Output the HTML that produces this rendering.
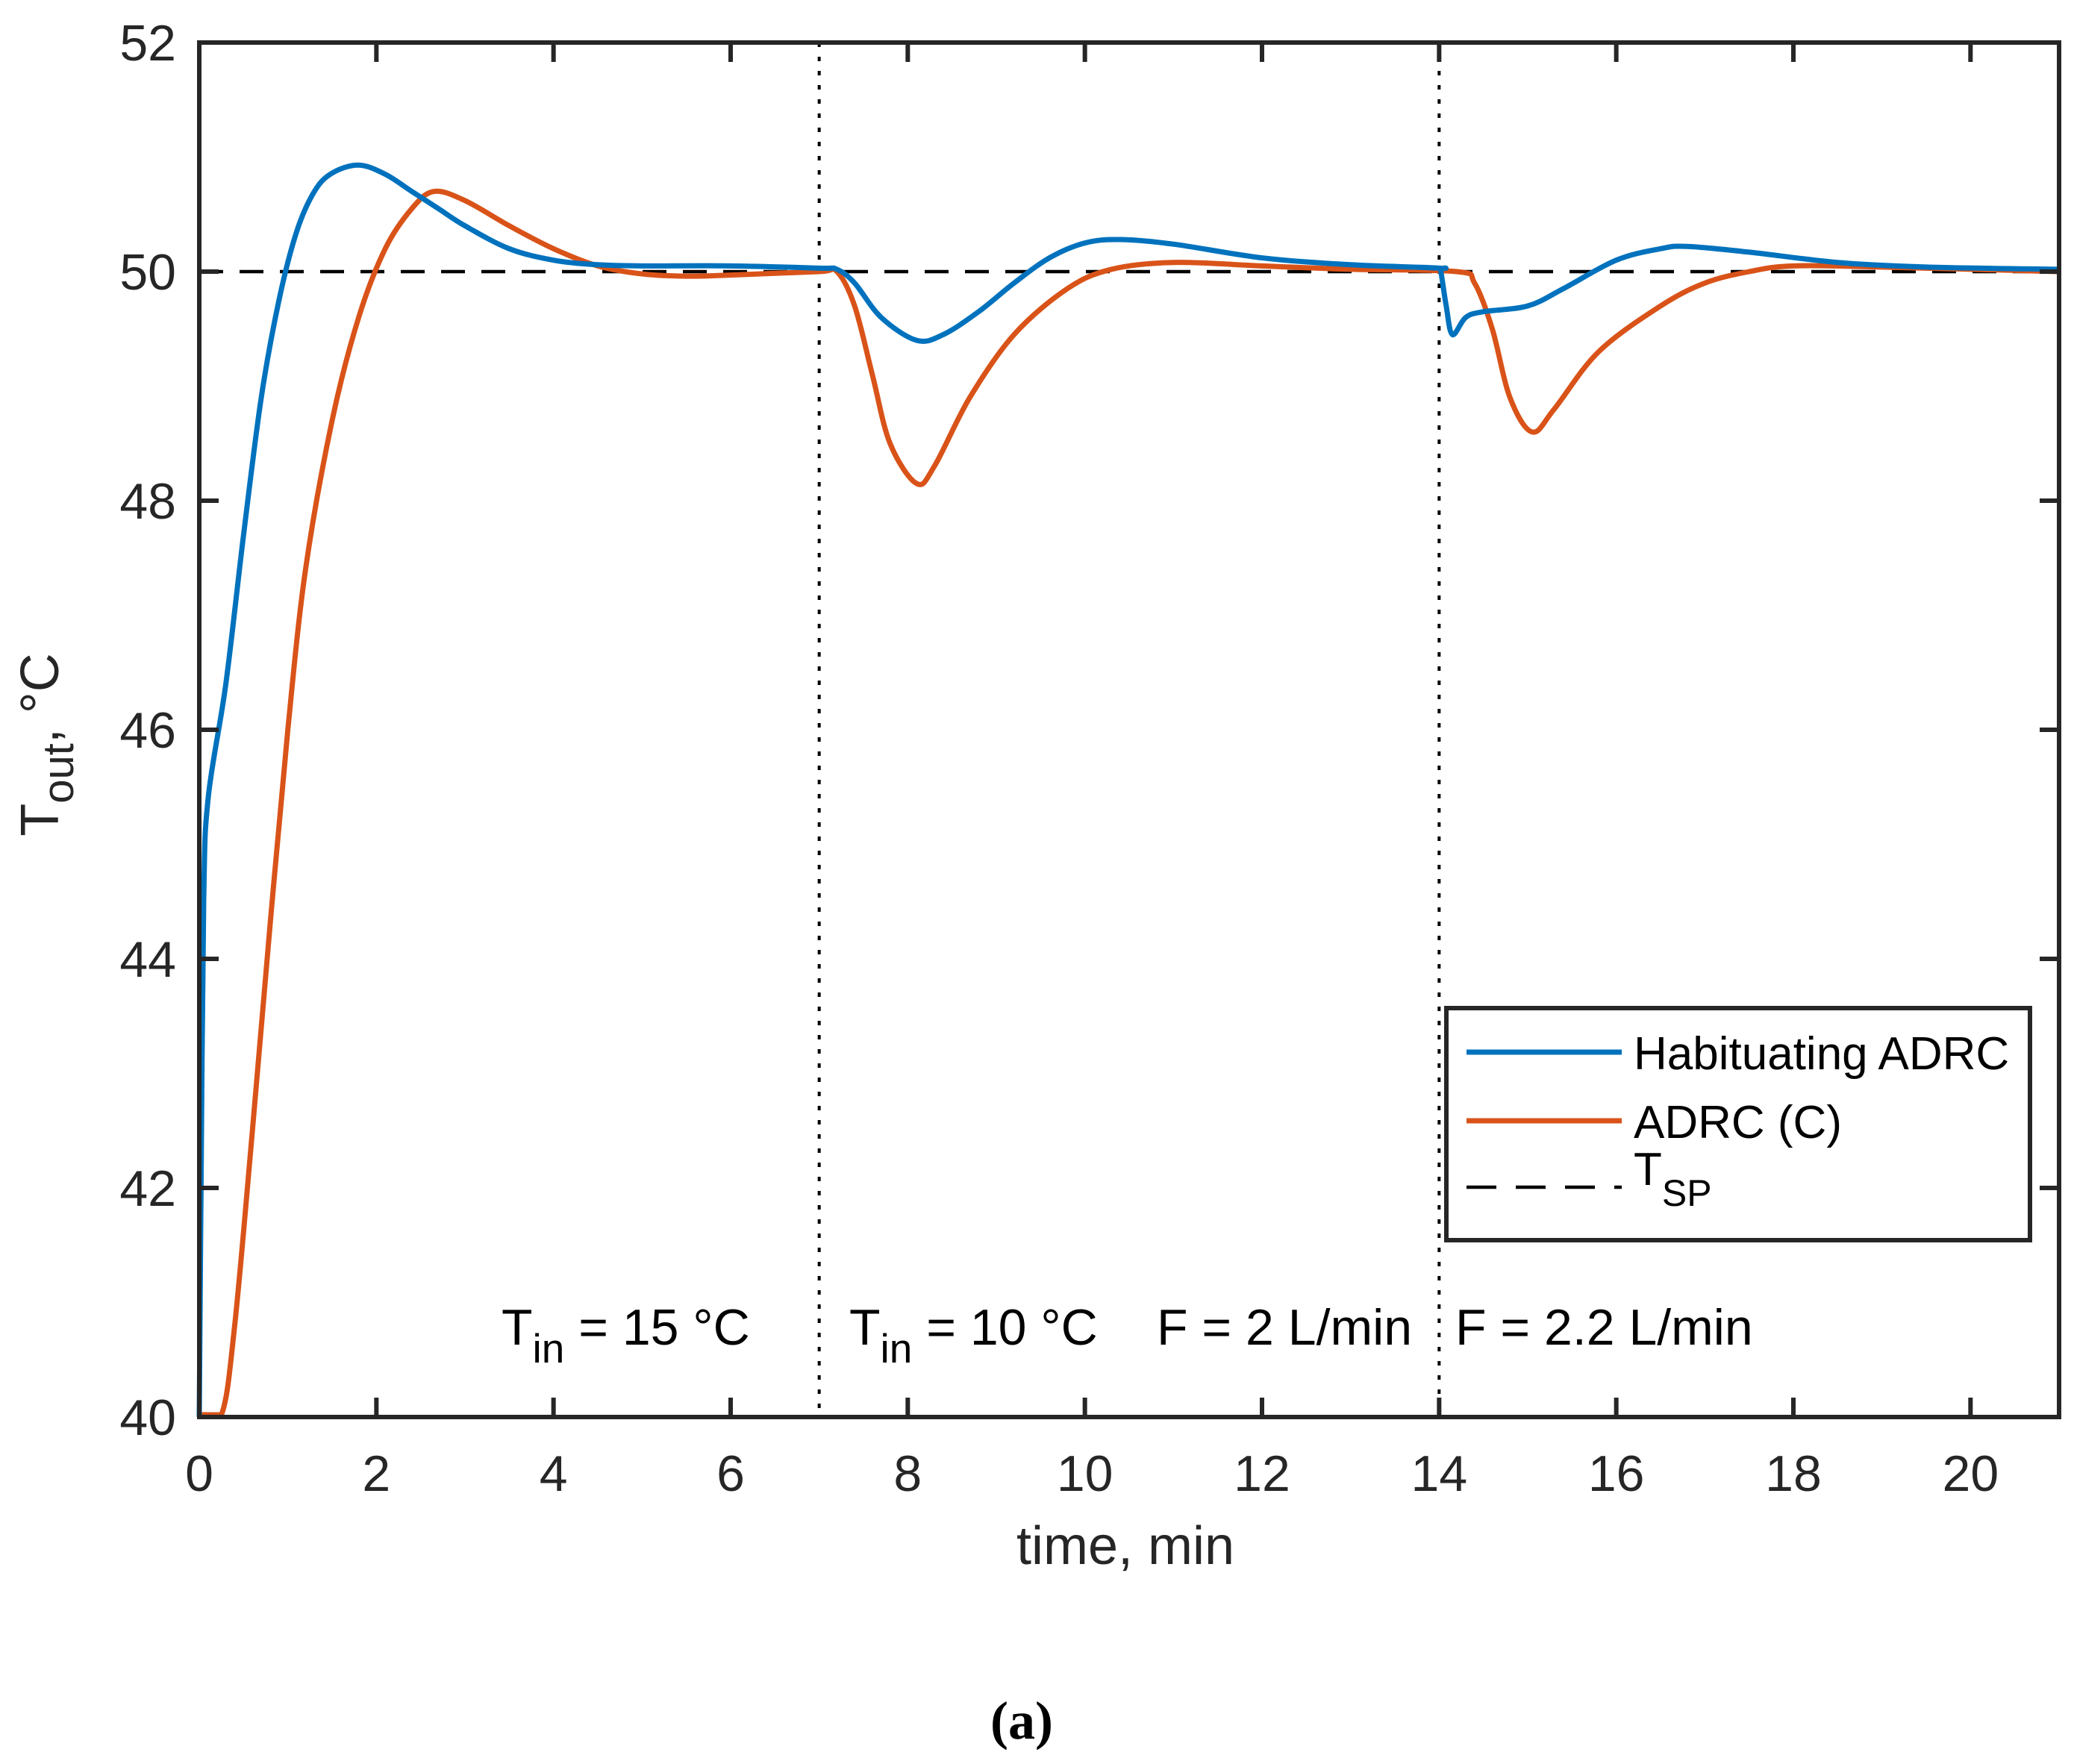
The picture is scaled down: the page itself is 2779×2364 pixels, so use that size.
<!DOCTYPE html>
<html><head><meta charset="utf-8"><style>
html,body{margin:0;padding:0;background:#fff;}
svg{display:block;font-family:"Liberation Sans",Arial,sans-serif;}
</style></head><body>
<svg id="chart" width="2779" height="2364" viewBox="0 0 2779 2364" xmlns="http://www.w3.org/2000/svg">
<g id="plot"></g>
<g id="axes"></g>
<text transform="translate(78,998) rotate(-90)" text-anchor="middle" font-size="72" fill="#262626">T<tspan font-size="58" dy="20">out</tspan><tspan dy="-20">, °C</tspan></text>
<text x="1508" y="2096" text-anchor="middle" font-size="72" fill="#262626">time, min</text>
<text x="672" y="1802" font-size="68" fill="#000">T<tspan font-size="55" dy="24">in</tspan><tspan dy="-24"> = 15 °C</tspan></text>
<text x="1138" y="1802" font-size="68" fill="#000">T<tspan font-size="55" dy="24">in</tspan><tspan dy="-24"> = 10 °C</tspan></text>
<text x="1550" y="1802" font-size="68" fill="#000">F = 2 L/min</text>
<text x="1950" y="1802" font-size="68" fill="#000">F = 2.2 L/min</text>
<g>
<rect x="1938" y="1351" width="782" height="311" fill="#fff" stroke="#262626" stroke-width="6"/>
<line x1="1965" y1="1410" x2="2173" y2="1410" stroke="#0072BD" stroke-width="7"/>
<text x="2189" y="1433" font-size="62" fill="#000">Habituating ADRC</text>
<line x1="1965" y1="1502" x2="2173" y2="1502" stroke="#D95319" stroke-width="7"/>
<text x="2189" y="1525" font-size="62" fill="#000">ADRC (C)</text>
<line x1="1965" y1="1591" x2="2173" y2="1591" stroke="#000" stroke-width="4.5" stroke-dasharray="40,26"/>
<text x="2189" y="1588" font-size="62" fill="#000">T<tspan font-size="50" dy="28">SP</tspan></text>
</g>
<text x="1369" y="2330" text-anchor="middle" font-size="72" font-weight="bold" font-family="Liberation Serif, serif" fill="#000">(a)</text>
</svg>
<script>
const xTicks=[0,2,4,6,8,10,12,14,16,18,20];
const yTicks=[40,42,44,46,48,50,52];
const setpoint=50;
const eventTimes=[7,14];
const habT=[0,0.02,0.05,0.1,0.3,0.5,0.7,0.9,1.1,1.3,1.5,1.8,2.1,2.4,2.7,3.0,3.5,4,4.5,5,6,7,7.2,7.4,7.7,8.1,8.4,8.8,9.2,9.6,10,10.4,11,12,13,14,14.02,14.08,14.15,14.3,14.5,15,15.4,16,16.5,16.8,17.5,18.5,19.5,21];
const habV=[40,42,44.5,45.4,46.4,47.7,48.9,49.75,50.35,50.7,50.86,50.93,50.85,50.7,50.55,50.4,50.2,50.1,50.06,50.05,50.05,50.03,50.02,49.9,49.6,49.4,49.45,49.65,49.9,50.12,50.25,50.28,50.24,50.12,50.06,50.03,50.0,49.7,49.45,49.6,49.65,49.7,49.85,50.1,50.2,50.22,50.17,50.08,50.04,50.02];
const adrcT=[0,0.25,0.4,0.6,0.8,1.0,1.2,1.5,1.8,2.1,2.4,2.65,3.0,3.5,4,4.5,5,5.5,6,7,7.2,7.4,7.6,7.8,8.1,8.3,8.7,9.2,9.8,10.3,11,12,13,14.2,14.4,14.6,14.8,15.05,15.3,15.8,16.5,17,17.5,18,19,21];
const adrcV=[40.02,40.02,40.8,42.5,44.3,46,47.4,48.7,49.6,50.2,50.55,50.7,50.62,50.4,50.2,50.05,49.98,49.96,49.97,50,50,49.7,49.1,48.5,48.15,48.3,48.9,49.45,49.85,50.02,50.08,50.05,50.02,50,49.9,49.5,48.9,48.6,48.8,49.3,49.7,49.9,50,50.05,50.04,50];
const X0=267,X1=2759,Y0=1899,Y1=57,xmin=0,xmax=21,ymin=40,ymax=52;
const sx=v=>X0+(v-xmin)/(xmax-xmin)*(X1-X0);
const sy=v=>Y0-(v-ymin)/(ymax-ymin)*(Y0-Y1);
const NS="http://www.w3.org/2000/svg";
const plot=document.getElementById('plot'),axes=document.getElementById('axes');
function mk(tag,attrs,parent){const e=document.createElementNS(NS,tag);for(const k in attrs)e.setAttribute(k,attrs[k]);parent.appendChild(e);return e;}
function smooth(ts,vs){const p=ts.map((t,i)=>[sx(t),sy(vs[i])]);let d="M"+p[0][0]+","+p[0][1];
for(let i=0;i<p.length-1;i++){const a=p[Math.max(0,i-1)],b=p[i],c=p[i+1],e=p[Math.min(p.length-1,i+2)];
let c1=[b[0]+(c[0]-a[0])/6,b[1]+(c[1]-a[1])/6],c2=[c[0]-(e[0]-b[0])/6,c[1]-(e[1]-b[1])/6];
c1[1]=Math.min(c1[1],Y0-3);c2[1]=Math.min(c2[1],Y0-3);
d+=" C"+c1[0]+","+c1[1]+" "+c2[0]+","+c2[1]+" "+c[0]+","+c[1];}return d;}
eventTimes.forEach(t=>{const l=mk('line',{x1:sx(t),x2:sx(t),y1:Y1,y2:Y0,stroke:'#000','stroke-width':4,'stroke-dasharray':'6,13'},plot);

});
const sp=mk('line',{x1:X0,x2:X1,y1:sy(setpoint),y2:sy(setpoint),stroke:'#000','stroke-width':4.5,'stroke-dasharray':'32,22'},plot);


const a=mk('path',{d:smooth(adrcT,adrcV),fill:'none',stroke:'#D95319','stroke-width':7},plot);


const h=mk('path',{d:smooth(habT,habV),fill:'none',stroke:'#0072BD','stroke-width':7},plot);


const box=mk('rect',{x:X0,y:Y1,width:X1-X0,height:Y0-Y1,fill:'none',stroke:'#262626','stroke-width':6},axes);


xTicks.forEach(t=>{const x=sx(t);
const tk=mk('path',{d:`M${x},${Y0}V${Y0-26}M${x},${Y1}V${Y1+26}`,stroke:'#262626','stroke-width':6},axes);


const tl=mk('text',{x:x,y:1998,'text-anchor':'middle','font-size':68,fill:'#262626'},axes);tl.textContent=t;

});
yTicks.forEach(v=>{const y=sy(v);
const tk=mk('path',{d:`M${X0},${y}H${X0+26}M${X1},${y}H${X1-26}`,stroke:'#262626','stroke-width':6},axes);


const tl=mk('text',{x:236,y:y+24,'text-anchor':'end','font-size':68,fill:'#262626'},axes);tl.textContent=v;

});
</script>
</body></html>
